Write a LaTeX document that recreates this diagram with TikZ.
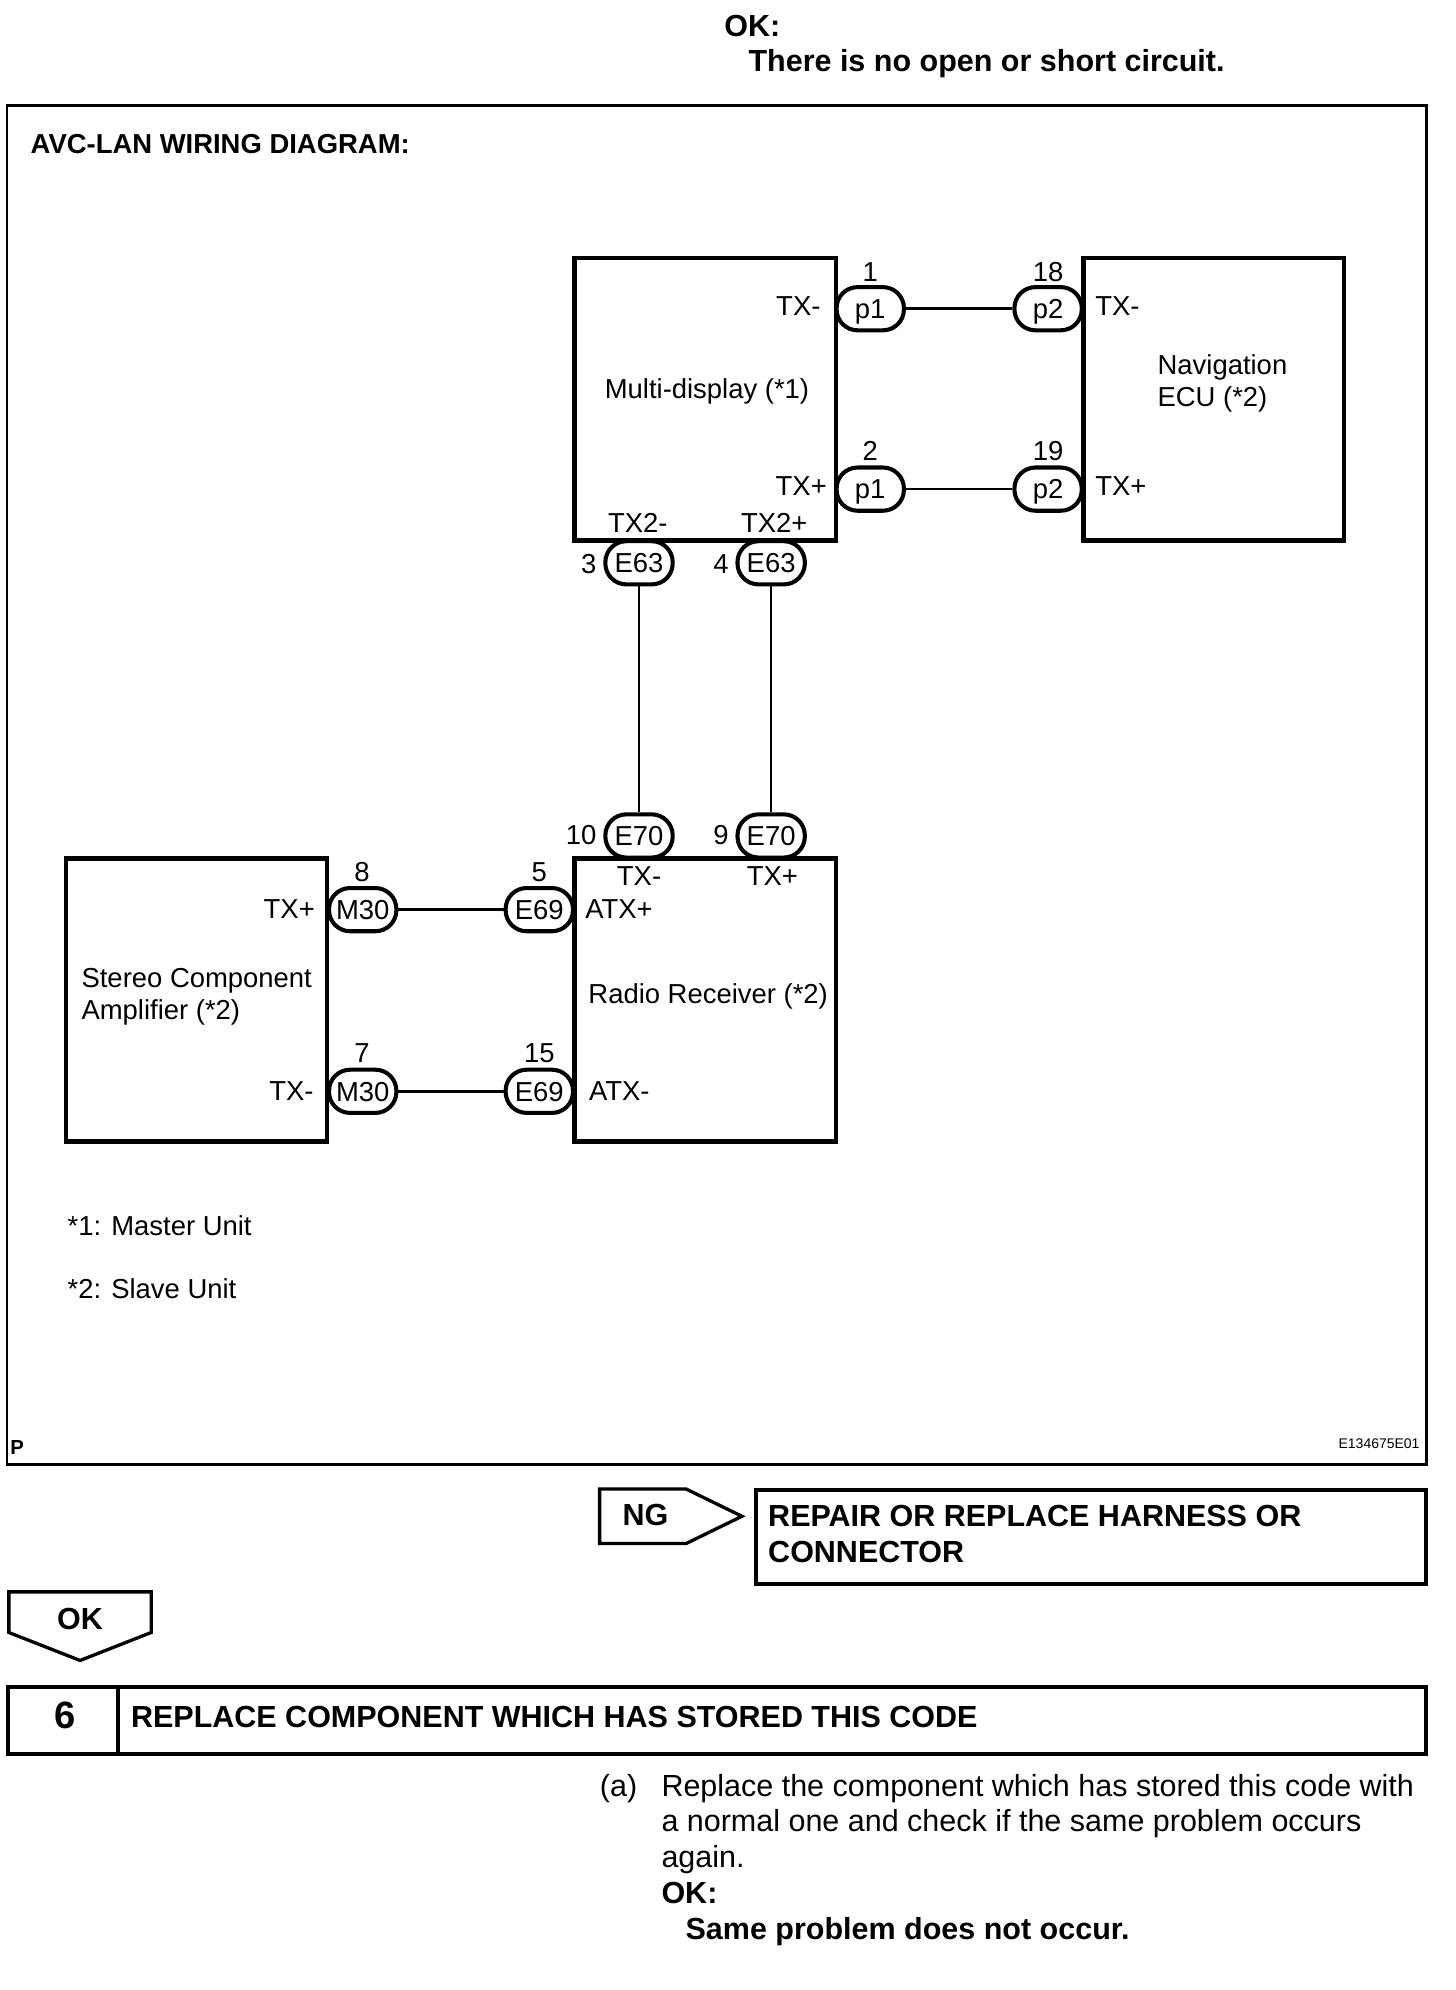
\documentclass[tikz,border=0pt]{standalone}
\usepackage{fontspec}
\setmainfont{Liberation Sans}
\tikzset{
  lab/.style={inner sep=0pt,text height=15.5pt,text depth=0pt,font=\fontsize{21.6}{24}\selectfont},
  body/.style={inner sep=0pt,text height=17pt,text depth=0pt,font=\fontsize{24}{28}\selectfont},
  bodyb/.style={inner sep=0pt,text height=17pt,text depth=0pt,font=\fontsize{24}{28}\selectfont\bfseries},
  unitbox/.style={draw,line width=3.7pt,fill=white,inner sep=0pt,outer sep=0pt},
  pill/.style={draw,line width=3.2pt,fill=white,rounded corners=16.5pt,minimum width=53pt,minimum height=34pt,inner sep=0pt,font=\fontsize{21.6}{24}\selectfont,text height=15.5pt,text depth=0pt},
  wire/.style={line width=2.1pt},
  tag/.style={draw,line width=2.6pt,line join=miter,fill=white}
}
\begin{document}
\begin{tikzpicture}[x=1pt,y=-1pt]
\useasboundingbox (0,0) rectangle (1146,1566.4);
\fill[white] (0,0) rectangle (1146,1566.4);
\node[bodyb,anchor=west] (okhead) at (570,20) {OK:};
\node[bodyb,anchor=west] (oktext) at (589,48) {There is no open or short circuit.};
\draw[line width=2.1pt] (5.5,83) rectangle (1123,1152.5);
\node[bodyb,anchor=west,font=\fontsize{21.6}{26}\selectfont\bfseries] (title) at (24,112.5) {AVC-LAN WIRING DIAGRAM:};
% unit boxes
\node[unitbox,minimum width=206pt,minimum height=222.5pt,anchor=north west] (multi) at (452,203) {};
\node[unitbox,minimum width=205pt,minimum height=222.5pt,anchor=north west] (nav) at (853,203) {};
\node[unitbox,minimum width=205.5pt,minimum height=222.5pt,anchor=north west] (stereo) at (52,676) {};
\node[unitbox,minimum width=206pt,minimum height=222.5pt,anchor=north west] (radio) at (452,676) {};
% connectors
\node[pill] (pa) at (685,243) {p1};
\node[pill] (pb) at (825,243) {p2};
\node[pill] (pc) at (685,385) {p1};
\node[pill] (pd) at (825,385) {p2};
\node[pill] (ea) at (503,443) {E63};
\node[pill] (eb) at (607,443) {E63};
\node[pill] (ec) at (503,658) {E70};
\node[pill] (ed) at (607,658) {E70};
\node[pill] (ma) at (285.5,716) {M30};
\node[pill] (mb) at (424.5,716) {E69};
\node[pill] (mc) at (285.5,859) {M30};
\node[pill] (md) at (424.5,859) {E69};
\draw[wire] (pa) -- (pb);
\draw[wire] (pc) -- (pd);
\draw[wire] (ea) -- (ec);
\draw[wire] (eb) -- (ed);
\draw[wire] (ma) -- (mb);
\draw[wire] (mc) -- (md);
% pin numbers
\node[lab] (n1) at (685,214) {1};
\node[lab] (n18) at (825,214) {18};
\node[lab] (n2) at (685,355) {2};
\node[lab] (n19) at (825,355) {19};
\node[lab] (n3) at (463.5,444) {3};
\node[lab] (n4) at (567.5,444) {4};
\node[lab] (n10) at (457.5,657) {10};
\node[lab] (n9) at (567.5,657) {9};
\node[lab] (n8) at (285,686) {8};
\node[lab] (n5) at (424.5,686) {5};
\node[lab] (n7) at (285,828.5) {7};
\node[lab] (n15) at (424.5,828.5) {15};
% terminal labels
\node[lab,anchor=east] (t1) at (646,240.5) {TX-};
\node[lab,anchor=east] (t2) at (651,382.5) {TX+};
\node[lab,anchor=west] (t3) at (862,240.5) {TX-};
\node[lab,anchor=west] (t4) at (862,382.5) {TX+};
\node[lab] (t5) at (502,411.5) {TX2-};
\node[lab] (t6) at (609.5,411.5) {TX2+};
\node[lab] (t7) at (503,689.5) {TX-};
\node[lab] (t8) at (608,689.5) {TX+};
\node[lab,anchor=east] (t9) at (248,715.5) {TX+};
\node[lab,anchor=east] (t10) at (247,858.5) {TX-};
\node[lab,anchor=west] (t11) at (460.5,715.5) {ATX+};
\node[lab,anchor=west] (t12) at (463.5,858.5) {ATX-};
% unit names
\node[lab] (lmulti) at (556.5,306) {Multi-display (*1)};
\node[lab,anchor=west] (lnav1) at (911,287) {Navigation};
\node[lab,anchor=west] (lnav2) at (911,312) {ECU (*2)};
\node[lab,anchor=west] (lrad) at (463,782.5) {Radio Receiver (*2)};
\node[lab,anchor=west] (lst1) at (64,769.5) {Stereo Component};
\node[lab,anchor=west] (lst2) at (64,795) {Amplifier (*2)};
\node[lab,anchor=west] (fn1) at (53,964.5) {*1: Master Unit};
\node[lab,anchor=west] (fn2) at (53,1014.5) {*2: Slave Unit};
\node[anchor=west,inner sep=0pt,font=\fontsize{16}{18}\selectfont\bfseries] (pmark) at (8,1139) {P};
\node[anchor=east,inner sep=0pt,font=\fontsize{11}{13}\selectfont] (code) at (1117.5,1136) {E134675E01};
% NG
\draw[tag] (472,1172) -- (540,1172) -- (584,1193.5) -- (540,1215) -- (472,1215) -- cycle;
\node[bodyb] (ng) at (508,1192.5) {NG};
\node[unitbox,line width=3.2pt,minimum width=527.5pt,minimum height=73.5pt,anchor=north west] (repair) at (595,1173) {};
\node[bodyb,anchor=west] (rep1) at (604.5,1193) {REPAIR OR REPLACE HARNESS OR};
\node[bodyb,anchor=west] (rep2) at (604.5,1221) {CONNECTOR};
% OK
\draw[tag] (7,1253) -- (119,1253) -- (119,1285) -- (63,1307) -- (7,1285) -- cycle;
\node[bodyb] (ok) at (63,1274) {OK};
% step bar
\node[draw,line width=3.2pt,outer sep=0pt,minimum width=1116.5pt,minimum height=52.5pt,anchor=north west,inner sep=0pt] (bar) at (6,1328) {};
\draw[line width=3pt] (93,1328) -- (93,1380.5);
\node[bodyb,font=\fontsize{30}{32}\selectfont\bfseries] (six) at (51,1352) {6};
\node[bodyb,anchor=west] (steptitle) at (103,1351) {REPLACE COMPONENT WHICH HAS STORED THIS CODE};
% step text
\node[body,anchor=west] (a) at (472,1405.5) {(a)};
\node[body,anchor=west] (l1) at (520.5,1405.5) {Replace the component which has stored this code with};
\node[body,anchor=west] (l2) at (520.5,1433.5) {a normal one and check if the same problem occurs};
\node[body,anchor=west] (l3) at (520.5,1461.5) {again.};
\node[bodyb,anchor=west] (l4) at (520.5,1489.5) {OK:};
\node[bodyb,anchor=west] (l5) at (539.5,1518.5) {Same problem does not occur.};
\end{tikzpicture}
\end{document}
